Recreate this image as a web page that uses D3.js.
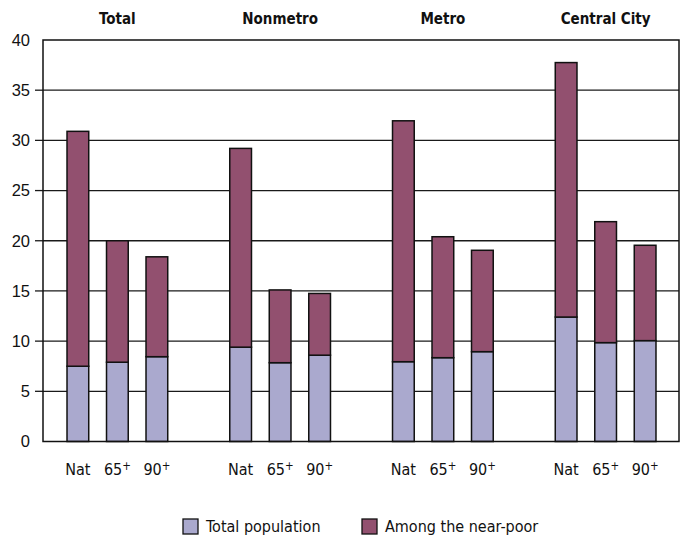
<!DOCTYPE html>
<html><head><meta charset="utf-8">
<script src="https://cdn.jsdelivr.net/npm/d3@7"></script>
<style>
html,body{margin:0;padding:0;background:#fff;}
svg{display:block;font-family:"Liberation Sans Narrow","DejaVu Sans Condensed","Liberation Sans",sans-serif;}
</style></head>
<body><svg id="chart" width="682" height="535"></svg>
<script>
const groups = ["Total", "Nonmetro", "Metro", "Central City"];
const subgroups = ["Nat", "65", "90"];
const subLabels = [["Nat", ""], ["65", "+"], ["90", "+"]];
const totalPopulation = [7.5, 7.9, 8.45, 9.4, 7.85, 8.6, 7.95, 8.35, 8.95, 12.4, 9.85, 10.05];
const amongNearPoor = [23.4, 12.1, 9.95, 19.8, 7.25, 6.15, 24.0, 12.05, 10.1, 25.35, 12.05, 9.5];
const yTicks = [0, 5, 10, 15, 20, 25, 30, 35, 40];
const seriesNames = ["Total population", "Among the near-poor"];
const colors = ["#aaa9ce", "#92506f"];

const svg = d3.select("#chart");
const mLeft = 43, mRight = 679, mTop = 40, mBottom = 441.5;

const y = d3.scaleLinear().domain([0, 40]).range([mBottom, mTop]);
const xGroup = d3.scaleBand().domain(groups).range([36, 687]);
const subPad = 0.45, subStep = 39.5;
const innerW = subStep * (subgroups.length - subPad);
const xSub = d3.scaleBand().domain(subgroups).range([0, innerW]).paddingInner(subPad).paddingOuter(0);
const subOffset = (xGroup.bandwidth() - innerW) / 2;
const xPos = (g, s) => xGroup(g) + subOffset + xSub(s);

const rows = [];
groups.forEach((g, gi) => subgroups.forEach((s, si) => {
  const i = gi * subgroups.length + si;
  rows.push({group: g, sub: s, pop: totalPopulation[i], poor: amongNearPoor[i]});
}));
const stack = d3.stack().keys(["pop", "poor"])(rows);

const inner = yTicks.filter(t => t > 0 && t < 40);
svg.append("g").selectAll("line").data(inner).join("line")
  .attr("x1", mLeft).attr("x2", mRight)
  .attr("y1", d => y(d)).attr("y2", d => y(d))
  .attr("stroke", "#1a1a1a").attr("stroke-width", 1.3);

const yAxis = d3.axisLeft(y).tickValues(yTicks).tickSize(0).tickPadding(13);
const ga = svg.append("g").attr("transform", `translate(${mLeft},0)`).call(yAxis);
ga.select(".domain").remove();
ga.selectAll("text").attr("font-size", 16.5).attr("fill", "#111")
  .attr("font-family", "inherit");
svg.append("g").selectAll("line").data(inner).join("line")
  .attr("x1", mLeft - 8).attr("x2", mLeft)
  .attr("y1", d => y(d)).attr("y2", d => y(d))
  .attr("stroke", "#1a1a1a").attr("stroke-width", 1.3);

stack.forEach((layer, li) => {
  svg.append("g").selectAll("rect").data(layer).join("rect")
    .attr("x", d => xPos(d.data.group, d.data.sub))
    .attr("width", xSub.bandwidth())
    .attr("y", d => y(d[1]))
    .attr("height", d => y(d[0]) - y(d[1]))
    .attr("fill", colors[li])
    .attr("stroke", "#111").attr("stroke-width", 1.5);
});

svg.append("rect").attr("x", mLeft).attr("y", y(40))
  .attr("width", mRight - mLeft).attr("height", y(0) - y(40))
  .attr("fill", "none").attr("stroke", "#111").attr("stroke-width", 1.5);

groups.forEach(g => {
  subgroups.forEach((s, si) => {
    const t = svg.append("text")
      .attr("x", xPos(g, s) + xSub.bandwidth() / 2)
      .attr("y", 475).attr("text-anchor", "middle")
      .attr("font-size", 16).attr("fill", "#111");
    t.append("tspan").text(subLabels[si][0]);
    if (subLabels[si][1]) t.append("tspan").attr("font-size", 11.5).attr("dy", -5.5).text(subLabels[si][1]);
  });
  svg.append("text")
    .attr("x", xPos(g, subgroups[1]) + xSub.bandwidth() / 2)
    .attr("y", 24).attr("text-anchor", "middle")
    .attr("font-size", 15).attr("font-weight", "bold").attr("fill", "#111")
    .text(g);
});

const legendX = [183, 362];
seriesNames.forEach((n, i) => {
  svg.append("rect").attr("x", legendX[i]).attr("y", 519).attr("width", 15).attr("height", 15)
    .attr("fill", colors[i]).attr("stroke", "#111").attr("stroke-width", 1.3);
  svg.append("text").attr("x", legendX[i] + 23).attr("y", 532)
    .attr("font-size", 16).attr("fill", "#111").text(n);
});
</script></body></html>
